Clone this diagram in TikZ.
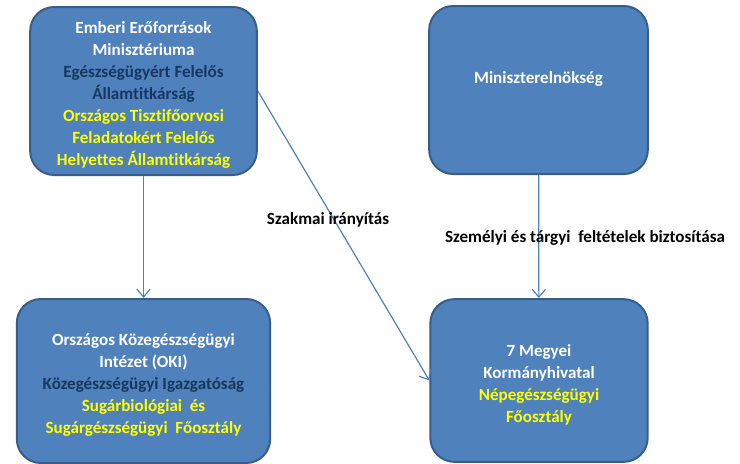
\documentclass[tikz,border=0pt]{standalone}
\usepackage{fontspec}
\setmainfont{Carlito}[Ligatures=NoCommon]
\usetikzlibrary{arrows.meta}

\definecolor{boxblue}{RGB}{79,129,189}
\definecolor{boxedge}{RGB}{56,93,138}
\definecolor{darknavy}{RGB}{23,55,94}
\definecolor{textyellow}{RGB}{255,255,0}

\newcommand{\topgap}{\rule{0pt}{15pt}}

\tikzset{
  orgbox/.style={draw=boxedge, line width=1.5pt, fill=boxblue, rounded corners=18pt,
    align=center, text=white, inner sep=2pt, font=\bfseries\fontsize{12.8}{16.5}\selectfont},
  link/.style={draw=boxblue, line width=0.9pt, -{Straight Barb[length=6pt,width=10pt]}},
  linklabel/.style={font=\bfseries\fontsize{12.8}{15}\selectfont, inner sep=1pt}
}

\begin{document}
\begin{tikzpicture}[x=0.75pt,y=0.75pt,yscale=-1,xscale=1]
\useasboundingbox (0,0) rectangle (740,464);

% Upper Boxes
\node (emmi) [orgbox, minimum width=170pt, minimum height=126pt] at (143.5,91)
  {\topgap Emberi Erőforrások\\Minisztériuma\\
   \textcolor{darknavy}{Egészségügyért Felelős}\\
   \textcolor{darknavy}{Államtitkárság}\\
   \textcolor{textyellow}{Országos Tisztifőorvosi}\\
   \textcolor{textyellow}{Feladatokért Felelős}\\
   \textcolor{textyellow}{Helyettes Államtitkárság}};
\node (me) [orgbox, minimum width=164pt, minimum height=126pt,
  text height=9pt, text depth=18pt] at (538.5,90) {Miniszterelnökség};

% Lower Boxes
\node (oki) [orgbox, minimum width=190pt, minimum height=123pt] at (143.5,381)
  {\topgap Országos Közegészségügyi\\Intézet (OKI)\\
   \textcolor{darknavy}{Közegészségügyi Igazgatóság}\\
   \textcolor{textyellow}{Sugárbiológiai\ \ és}\\
   \textcolor{textyellow}{Sugárgészségügyi\ \ Főosztály}};
\node (kh) [orgbox, minimum width=163pt, minimum height=122pt] at (539,380.5)
  {\topgap 7 Megyei\\Kormányhivatal\\
   \textcolor{textyellow}{Népegészségügyi}\\
   \textcolor{textyellow}{Főosztály}};

% Arrows
\draw [link] (emmi) -- (oki);
\draw [link] (emmi.east) -- (kh.west);
\draw [link] (me) -- (kh);

% Arrow Labels
\node (szakmai) [linklabel] at (328,220) {Szakmai irányítás};
\node (szemelyi) [linklabel] at (585,238) {Személyi és tárgyi\ \ feltételek biztosítása};

\end{tikzpicture}
\end{document}
